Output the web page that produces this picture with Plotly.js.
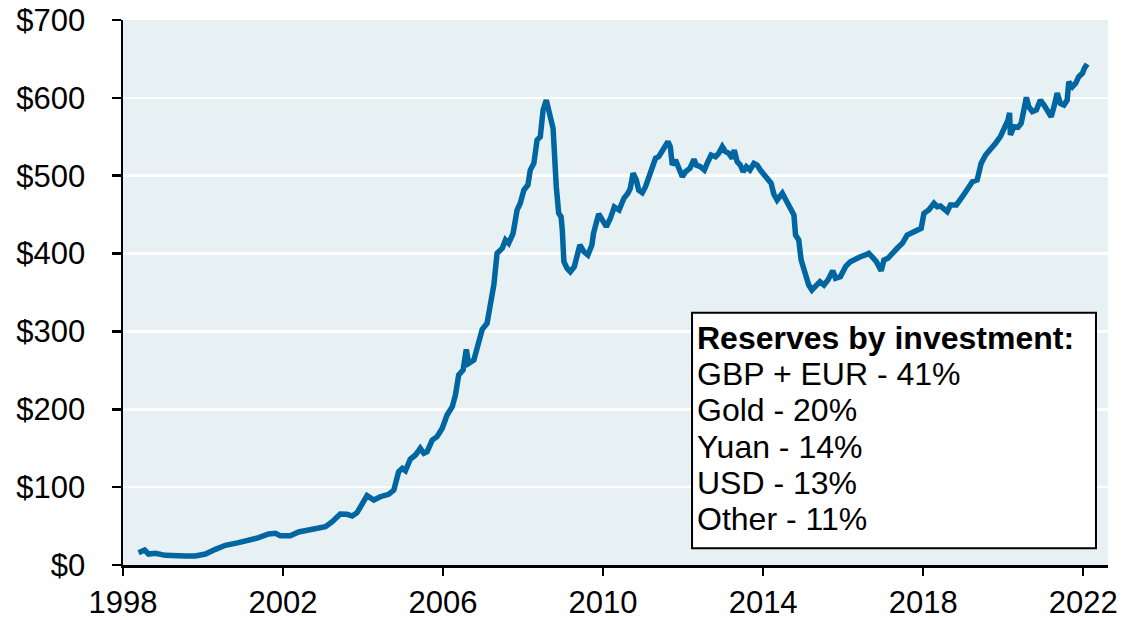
<!DOCTYPE html>
<html>
<head>
<meta charset="utf-8">
<script src="https://cdn.plot.ly/plotly-3.0.1.min.js"></script>
<style>html,body{margin:0;padding:0;background:#fff;}#chart{width:1125px;height:620px;}</style>
</head>
<body>
<div id="chart"></div>
<script>
// Reserves (billions USD) by decimal year
const years = [
1998.39,1998.54,1998.64,1998.81,1999.06,1999.31,1999.56,1999.81,2000.06,2000.31,2000.56,2000.89,2001.14,2001.39,2001.64,2001.81,2001.93,2002.18,2002.39,2002.64,2002.89,2003.06,2003.23,2003.43,2003.6,2003.73,2003.85,2003.98,2004.1,2004.27,2004.43,2004.64,2004.77,2004.89,2004.98,2005.06,2005.18,2005.31,2005.43,2005.52,2005.6,2005.73,2005.85,2005.98,2006.1,2006.23,2006.31,2006.39,2006.5,2006.58,2006.64,2006.77,2006.89,2006.98,2007.1,2007.18,2007.27,2007.35,2007.48,2007.56,2007.64,2007.75,2007.85,2007.93,2008.02,2008.12,2008.18,2008.27,2008.35,2008.43,2008.5,2008.58,2008.64,2008.7,2008.75,2008.78,2008.83,2008.89,2008.95,2008.98,2009.02,2009.1,2009.18,2009.28,2009.35,2009.42,2009.52,2009.62,2009.72,2009.76,2009.89,2009.98,2010.08,2010.18,2010.28,2010.4,2010.52,2010.62,2010.68,2010.75,2010.83,2010.89,2010.98,2011.06,2011.14,2011.23,2011.31,2011.39,2011.48,2011.56,2011.62,2011.68,2011.73,2011.81,2011.86,2011.92,2011.98,2012.06,2012.17,2012.27,2012.33,2012.43,2012.53,2012.62,2012.7,2012.81,2012.89,2012.98,2013.06,2013.14,2013.23,2013.28,2013.35,2013.43,2013.5,2013.58,2013.67,2013.77,2013.85,2013.93,2014.02,2014.12,2014.2,2014.27,2014.35,2014.48,2014.58,2014.68,2014.77,2014.81,2014.89,2014.95,2015.02,2015.08,2015.14,2015.22,2015.31,2015.42,2015.52,2015.62,2015.74,2015.81,2015.93,2016.06,2016.18,2016.31,2016.43,2016.56,2016.64,2016.72,2016.83,2016.95,2017.02,2017.12,2017.22,2017.35,2017.48,2017.6,2017.72,2017.85,2017.95,2018.02,2018.14,2018.27,2018.35,2018.43,2018.52,2018.6,2018.68,2018.83,2018.98,2019.1,2019.23,2019.35,2019.45,2019.56,2019.68,2019.81,2019.93,2020.02,2020.12,2020.16,2020.18,2020.27,2020.37,2020.45,2020.53,2020.58,2020.64,2020.73,2020.83,2020.93,2021.02,2021.1,2021.2,2021.28,2021.35,2021.43,2021.52,2021.6,2021.64,2021.73,2021.81,2021.89,2021.98,2022.03,2022.1
];
const reserves = [
15.8,19.3,14.1,15,12.4,11.2,11.6,11.6,14.1,20.1,25.3,28.7,31.2,35.1,39.8,40.7,37.6,37.6,42.4,45,47.9,49.2,55.6,65.5,65.1,62.9,67.2,80,89,83.5,87.7,90.8,96.3,119.8,124.2,121.1,135.8,141.3,149.9,143.5,145.5,160.5,164.8,175.6,192.7,203.3,218.3,244,250.4,277,259,263.3,284.7,302.7,310.4,330,360,400.3,406.8,417.4,413.2,426,456,464.6,481.6,488,507.3,516,545.9,550.1,584.4,597.2,580.1,571.5,560.9,528.8,485.9,451.7,447.3,430.3,389.6,381,376.7,383.1,396,411,402.4,398.2,411,426,451,442,434.5,445,460,456,471,477.4,483.8,503.1,494.5,481.6,478.2,485.9,496.7,507.3,522.4,524.4,530.8,539.4,543.7,537.3,513.7,520.2,513.7,507.3,498.7,505.1,509.5,521.1,513.7,511.6,507.3,518,526.6,524.4,528.8,537.3,530.8,528.8,522.4,533,518,513.7,505.1,511.6,507.3,515.9,513.7,507.3,500.9,494.5,490.2,476,468.8,477.4,468,457,449.5,423.8,417.4,391.7,381,370.3,359.6,353.2,357.4,363.9,359.6,366,378,368.2,370.3,383.1,389.6,393.9,396,398.2,400.3,396,389.6,378,391.7,393.9,400.3,406.8,413.2,423.8,426.8,430.3,432.4,451.7,456,464.6,460.2,461.1,458.1,453.8,462.4,462.4,473,483.8,492.3,494.5,515.9,526.6,533,541.7,550.1,560.9,571.5,580.9,552.3,562.9,562.1,567.3,584.4,600.7,588.6,582.2,584.4,597.2,590.8,584.4,575.8,590.8,606.2,592.9,590.8,597.2,620.7,614.3,618.6,627.2,631.5,637.9,643.5
];
const xTicks = [1998, 2002, 2006, 2010, 2014, 2018, 2022];
const yTicks = [0, 100, 200, 300, 400, 500, 600, 700];
const yTickLabels = ["$0", "$100", "$200", "$300", "$400", "$500", "$600", "$700"];
const boxTitle = "Reserves by investment:";
const boxLines = ["GBP + EUR - 41%", "Gold - 20%", "Yuan - 14%", "USD - 13%", "Other - 11%"];

const FONT = "Liberation Sans, Arial, sans-serif";
const lineYs = [0.4165, 0.3505, 0.2835, 0.2165, 0.1505, 0.0844];
const annTexts = ["<b>" + boxTitle + "</b>"].concat(boxLines);
const annotations = annTexts.map((t, i) => ({
  xref: "paper", yref: "paper", x: 0.5805, y: lineYs[i],
  xanchor: "left", yanchor: "middle", text: t, showarrow: false,
  font: {family: FONT, size: 32, color: "#000"}
}));

const trace = {
  x: years, y: reserves, type: "scatter", mode: "lines",
  line: {color: "#0066A1", width: 5.5}, hoverinfo: "skip"
};

const layout = {
  width: 1125, height: 620,
  margin: {l: 123, r: 17, t: 20, b: 55, pad: 0},
  paper_bgcolor: "#ffffff",
  plot_bgcolor: "#E7F0F3",
  showlegend: false,
  font: {family: FONT, size: 31, color: "#000"},
  xaxis: {
    range: [1998, 2022.62], tickvals: xTicks, ticktext: xTicks.map(String),
    showgrid: false, zeroline: false, showline: true, linecolor: "#000", linewidth: 2.5,
    ticks: "outside", ticklen: 8, tickwidth: 2.5, tickcolor: "#000",
    ticklabelstandoff: 0,
    tickfont: {family: FONT, size: 31, color: "#000"}, fixedrange: true
  },
  yaxis: {
    range: [0, 700], tickvals: yTicks, ticktext: yTickLabels,
    showgrid: true, gridcolor: "#ffffff", gridwidth: 2.5, zeroline: false,
    showline: true, linecolor: "#000", linewidth: 2.5,
    ticks: "outside", ticklen: 9, tickwidth: 2.5, tickcolor: "#000",
    ticklabelstandoff: 20,
    tickfont: {family: FONT, size: 31, color: "#000"}, fixedrange: true
  },
  shapes: [{
    type: "rect", xref: "paper", yref: "paper",
    x0: 0.5777, x1: 0.9878, y0: 0.0306, y1: 0.463,
    fillcolor: "#ffffff", line: {color: "#000", width: 2}, layer: "above"
  }],
  annotations: annotations
};

Plotly.newPlot("chart", [trace], layout, {staticPlot: true, displayModeBar: false});
</script>
</body>
</html>
